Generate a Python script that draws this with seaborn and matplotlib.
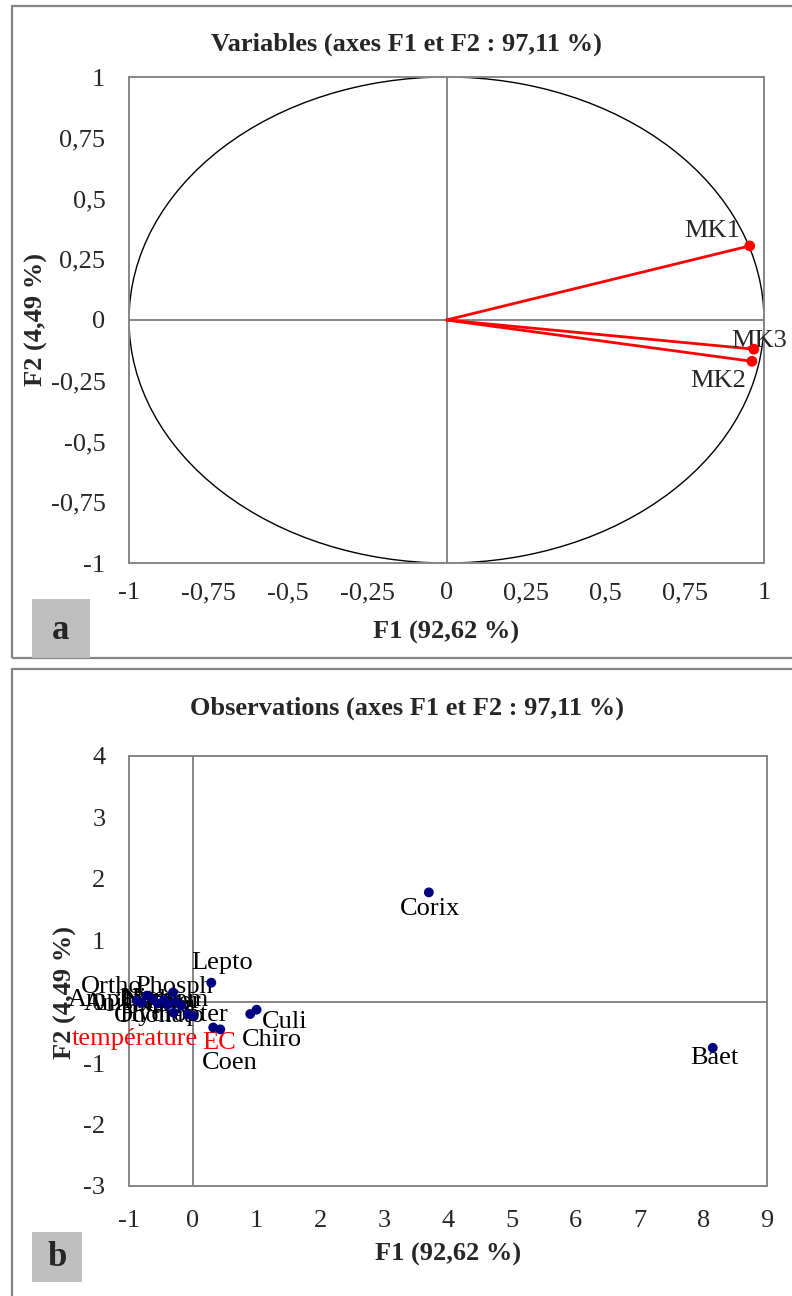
import numpy as np
import pandas as pd
import matplotlib
matplotlib.use("Agg")
import matplotlib.pyplot as plt
from matplotlib.patches import Rectangle, Circle
from matplotlib.ticker import FuncFormatter
import seaborn as sns

sns.set_style("white")
plt.rcParams['font.family'] = ['Liberation Serif', 'DejaVu Serif']

# ============================================
# Data
# ============================================

# panel a : variables (correlation circle)
var_names = ['MK1', 'MK3', 'MK2']
var_f1 = [0.955, 0.968, 0.962]
var_f2 = [0.305, -0.120, -0.170]

# panel b : observations
obs_names = ['Corix', 'Baet', 'Lepto', 'Culi', 'Chiro', 'EC', 'Coen',
             'température', 'Ortho', 'Phosph',
             'Amph', 'Anis', 'Nitra', 'NH4', 'Hydrom', 'Gerr',
             'Naucor', 'Plea', 'Odonato', 'Hydropter']
obs_f1 = [3.70, 8.15, 0.29, 1.00, 0.90, 0.32, 0.43,
          0.00, -0.72, -0.31,
          -0.88, -0.80, -0.62, -0.55, -0.45, -0.40,
          -0.27, -0.18, -0.30, -0.08]
obs_f2 = [1.78, -0.75, 0.31, -0.13, -0.20, -0.42, -0.45,
          -0.23, 0.10, 0.15,
          0.02, -0.02, 0.04, -0.03, 0.03, -0.05,
          0.00, -0.06, -0.18, -0.20]
red_labels = ['température', 'EC']

df_var = pd.DataFrame({'F1': var_f1, 'F2': var_f2, 'name': var_names})
df_obs = pd.DataFrame({'F1': obs_f1, 'F2': obs_f2, 'name': obs_names})

# label offsets (points) and alignment
var_offsets = {'MK1': (-27, 11, 'center'), 'MK3': (4, 6, 'center'),
               'MK2': (-24, -14, 'center')}
obs_offsets = {'Corix': (1, -12, 'center'), 'Baet': (1, -7, 'center'),
               'Lepto': (8, 14, 'center'), 'Culi': (4, -9, 'left'),
               'Chiro': (-6, -19, 'left'), 'EC': (-8, -11, 'left'),
               'Coen': (-13, -24, 'left'), 'température': (4, -17, 'right'),
               'Ortho': (-3, 6, 'right'), 'Phosph': (1, 4, 'center'),
               'Amph': (-2, 0, 'right'), 'Anis': (-6, -1, 'right'),
               'Nitra': (-4, 0, 'center'), 'NH4': (0, -1, 'center'),
               'Hydrom': (0, 0, 'center'), 'Gerr': (2, -1, 'center'),
               'Naucor': (-10, 0, 'center'), 'Plea': (-6, -1, 'center'),
               'Odonato': (-10, -2, 'center'), 'Hydropter': (-10, -1, 'center')}

GRAY = '#868686'
FS = 19
W, H = 792, 1296

fmt = FuncFormatter(lambda v, p: f"{v:g}".replace('.', ','))


def box(x0, y0, x1, y1):
    # pixel box (top-left origin) -> figure fraction rect
    return [x0 / W, 1 - y1 / H, (x1 - x0) / W, (y1 - y0) / H]


def make_axes(fig, rect, xlim, ylim, xticks, yticks, tick_len, xpad):
    # overlay axes carrying the zero lines with crossing ticks
    z = fig.add_axes(rect)
    z.set_xlim(xlim)
    z.set_ylim(ylim)
    for s in ['top', 'right']:
        z.spines[s].set_visible(False)
    for s in ['left', 'bottom']:
        z.spines[s].set_position(('data', 0))
        z.spines[s].set_color(GRAY)
        z.spines[s].set_linewidth(1.4)
    z.set_xticks([t for t in xticks if t != 0])
    z.set_yticks([t for t in yticks if t != 0])
    z.tick_params(direction='inout', length=tick_len, width=1.4, color=GRAY,
                  labelleft=False, labelbottom=False)

    ax = fig.add_axes(rect)
    ax.set_facecolor('none')
    ax.set_xlim(xlim)
    ax.set_ylim(ylim)
    ax.set_xticks(xticks)
    ax.set_yticks(yticks)
    ax.xaxis.set_major_formatter(fmt)
    ax.yaxis.set_major_formatter(fmt)
    ax.tick_params(length=0, labelsize=FS)
    ax.tick_params(axis='y', pad=17)
    ax.tick_params(axis='x', pad=xpad)
    for s in ax.spines.values():
        s.set_color(GRAY)
        s.set_linewidth(1.4)
    return ax


fig = plt.figure(figsize=(W / 100, H / 100), dpi=100)

# panel frames and letters
fig.patches.append(Rectangle((12 / W, 1 - 658 / H), 1, 652 / H, transform=fig.transFigure,
                             fill=False, edgecolor=GRAY, lw=1.6))
fig.patches.append(Rectangle((12 / W, -0.05), 1, 0.05 + 627 / H, transform=fig.transFigure,
                             fill=False, edgecolor=GRAY, lw=1.6))
r = box(32, 599, 90, 658)
fig.patches.append(Rectangle((r[0], r[1]), r[2], r[3], transform=fig.transFigure,
                             facecolor='#bfbfbf', edgecolor='none'))
fig.text(61 / W, 1 - 630 / H, 'a', fontsize=25, fontweight='bold', ha='center', va='center')
r = box(32, 1232, 82, 1282)
fig.patches.append(Rectangle((r[0], r[1]), r[2], r[3], transform=fig.transFigure,
                             facecolor='#bfbfbf', edgecolor='none'))
fig.text(57 / W, 1 - 1258 / H, 'b', fontsize=25, fontweight='bold', ha='center', va='center')

# ============================================
# Panel a : Variables
# ============================================

ticks_a = [-1, -0.75, -0.5, -0.25, 0, 0.25, 0.5, 0.75, 1]
ax1 = make_axes(fig, box(129, 77, 764, 563), (-1, 1), (-1, 1), ticks_a, ticks_a, 16, 14)
ax1.add_patch(Circle((0, 0), 1, fill=False, edgecolor='black', lw=1))
for x, y in zip(var_f1, var_f2):
    ax1.plot([0, x], [0, y], color='red', lw=2, zorder=3)
sns.scatterplot(data=df_var, x='F1', y='F2', ax=ax1, color='red', s=60,
                edgecolor='none', zorder=4, clip_on=False)
for n, x, y in zip(var_names, var_f1, var_f2):
    dx, dy, ha = var_offsets[n]
    ax1.annotate(n, (x, y), xytext=(dx, dy), textcoords='offset points',
                 ha=ha, va='center', fontsize=FS, annotation_clip=False)
ax1.set_xlabel('F1 (92,62 %)', fontsize=FS, fontweight='bold')
ax1.set_ylabel('F2 (4,49 %)', fontsize=FS, fontweight='bold')
ax1.xaxis.set_label_coords(0.5, -0.142)
ax1.xaxis.label.set_va('center')
ax1.yaxis.set_label_coords(-0.146, 0.5)
ax1.yaxis.label.set_va('center')
fig.text(406 / W, 1 - 44 / H, 'Variables (axes F1 et F2 : 97,11 %)', fontsize=FS,
         fontweight='bold', ha='center', va='center')

# ============================================
# Panel b : Observations
# ============================================

ax2 = make_axes(fig, box(129, 756, 767, 1186), (-1, 9), (-3, 4),
                list(range(-1, 10)), list(range(-3, 5)), 12, 17)
for n, x, y in zip(obs_names, obs_f1, obs_f2):
    dx, dy, ha = obs_offsets[n]
    ax2.annotate(n, (x, y), xytext=(dx, dy), textcoords='offset points',
                 ha=ha, va='center', fontsize=FS, annotation_clip=False,
                 color='red' if n in red_labels else 'black')
sns.scatterplot(data=df_obs, x='F1', y='F2', ax=ax2, color='#000080', s=50,
                edgecolor='none', zorder=4)
ax2.set_xlabel('F1 (92,62 %)', fontsize=FS, fontweight='bold')
ax2.set_ylabel('F2 (4,49 %)', fontsize=FS, fontweight='bold')
ax2.xaxis.set_label_coords(0.5, -0.16)
ax2.xaxis.label.set_va('center')
ax2.yaxis.set_label_coords(-0.10, 0.45)
ax2.yaxis.label.set_va('center')
fig.text(407 / W, 1 - 708 / H, 'Observations (axes F1 et F2 : 97,11 %)', fontsize=FS,
         fontweight='bold', ha='center', va='center')

fig.savefig('out.png', dpi=100)
